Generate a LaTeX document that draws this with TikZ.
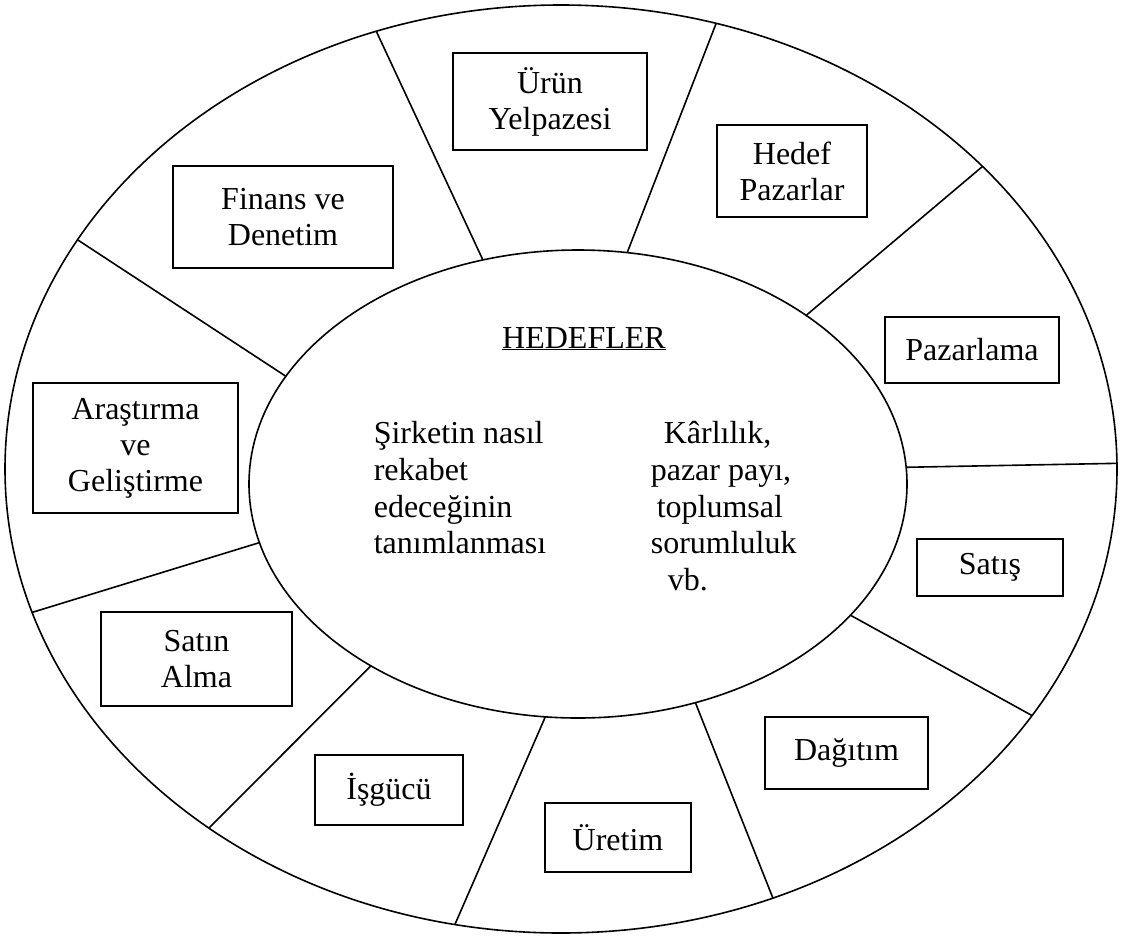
\documentclass[tikz,border=0pt]{standalone}
\usepackage{fontspec}
\setmainfont{Liberation Serif}
\usetikzlibrary{calc}
\begin{document}
\begin{tikzpicture}[x=1pt,y=-1pt,line width=1.6pt,
  lbl/.style={font=\fontsize{32}{36}\selectfont},
  box/.style={draw,rectangle,align=center,inner sep=0pt,lbl},
  txt/.style={inner sep=0pt,anchor=base west,lbl}]
\useasboundingbox (0,0) rectangle (1121,937);

% the two rings
\coordinate (oc) at (561,469);
\coordinate (ic) at (578,484);
\draw (oc) ellipse [x radius=556, y radius=464];
\draw (ic) ellipse [x radius=329, y radius=234];

% spokes between the rings (parametric angles on each ellipse)
\foreach \ta/\tb [count=\k] in {-106.8/-109.4,-81.4/-73.8,-46.1/-40.7,-4.1/-0.7,
    34.1/32.1,69.1/67.6,95.7/101,129/129.3,165.5/162,-152.6/-150.4}{
  \coordinate (in\k) at ($(ic)+(\ta:329 and 234)$);
  \coordinate (out\k) at ($(oc)+(\tb:556 and 464)$);
  \draw (in\k) -- (out\k);
}

% boxes around the ring
\node[box,minimum width=194pt,minimum height=97pt] (urun) at (550,101.5) {Ürün\\Yelpazesi};
\node[box,minimum width=150pt,minimum height=92pt] (hedef) at (792,171) {Hedef\\Pazarlar};
\node[box,minimum width=220pt,minimum height=102pt] (finans) at (283,217) {Finans ve\\Denetim};
\node[box,minimum width=174pt,minimum height=66pt] (pazarlama) at (972,350) {Pazarlama};
\node[box,minimum width=205pt,minimum height=130pt] (arge) at (135.5,448) {Araştırma\\ve\\Geliştirme};
\node[box,minimum width=146pt,minimum height=57pt] (satis) at (990,567.5) {Satış};
\node[box,minimum width=191pt,minimum height=94pt] (satinalma) at (196.5,659) {Satın\\Alma};
\node[box,minimum width=163pt,minimum height=72pt] (dagitim) at (846.5,753) {Dağıtım};
\node[box,minimum width=148pt,minimum height=70pt] (isgucu) at (389,790) {İşgücü};
\node[box,minimum width=146pt,minimum height=69pt] (uretim) at (618,837.5) {Üretim};

% centre texts
\node[inner sep=0pt,anchor=base,lbl] (title) at (584,348) {\underline{HEDEFLER}};
\node[txt] (l1) at (373,443) {Şirketin nasıl};
\node[txt] (l2) at (373,480) {rekabet};
\node[txt] (l3) at (373,517) {edeceğinin};
\node[txt] (l4) at (373,553) {tanımlanması};
\node[txt] (r1) at (663,443) {Kârlılık,};
\node[txt] (r2) at (650,480) {pazar payı,};
\node[txt] (r3) at (656,517) {toplumsal};
\node[txt] (r4) at (650,553) {sorumluluk};
\node[txt] (r5) at (667,590) {vb.};
\end{tikzpicture}
\end{document}
